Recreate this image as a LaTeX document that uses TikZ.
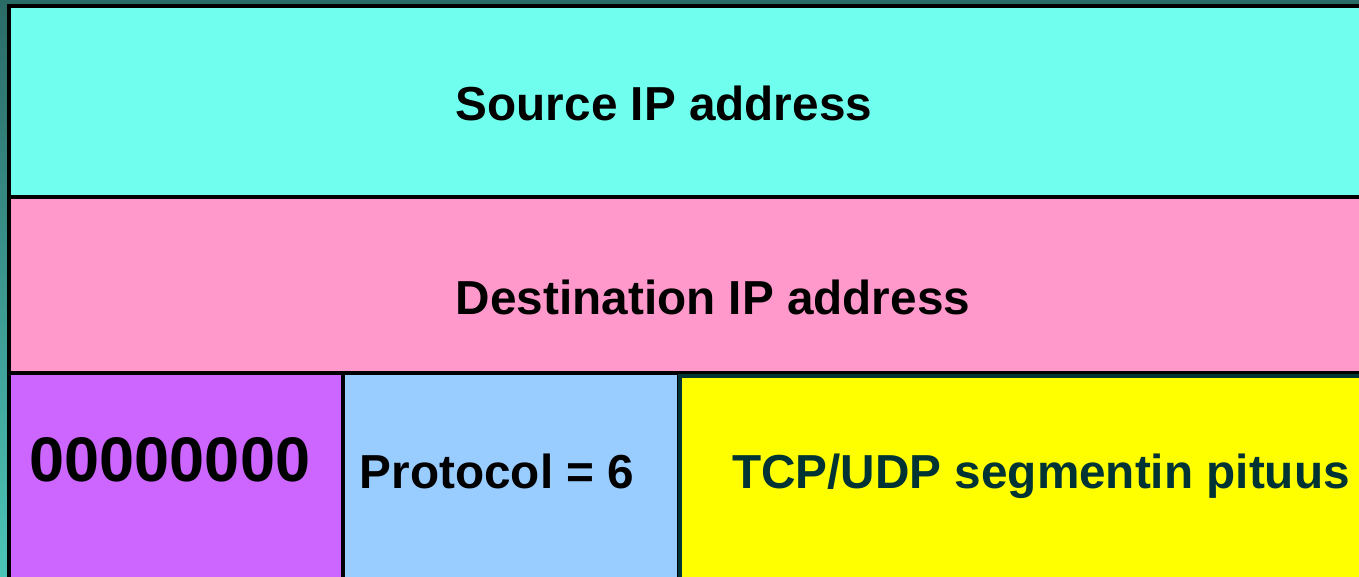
\documentclass[tikz,border=0pt]{standalone}
\usepackage{fontspec}
\setmainfont{Liberation Sans}
\definecolor{slideteal}{HTML}{2B6B66}
\definecolor{slidetealb}{HTML}{4CC4B8}
\definecolor{srccyan}{HTML}{70FFEE}
\definecolor{dstpink}{HTML}{FF99CC}
\definecolor{zeropurple}{HTML}{CC66FF}
\definecolor{protoblue}{HTML}{99CCFF}
\definecolor{lenyellow}{HTML}{FFFF00}
\definecolor{lentext}{HTML}{003333}
\tikzset{
    field/.style={draw=black,line width=4pt},
    fieldtext/.style={font=\bfseries\fontsize{47.7}{57}\selectfont,inner sep=0pt,anchor=base}
}

\begin{document}
\begin{tikzpicture}[x=1pt,y=-1pt]
            \useasboundingbox (0,0) rectangle (1359,577);
            \shade[top color=slideteal,bottom color=slidetealb] (0,0) rectangle (1359,577);
            \draw[field,fill=srccyan] (9,6.5) rectangle (1370,197);
            \draw[field,fill=dstpink] (9,197) rectangle (1370,373);
            \draw[field,fill=zeropurple] (9,373) rectangle (343,590);
            \draw[field,fill=protoblue] (343,373) rectangle (679,590);
            \draw[field,draw=lentext,fill=lenyellow] (679.5,375.5) rectangle (1370,590);
            \draw[black,line width=2pt] (679,372) -- (1370,372);
            \node[fieldtext] (srcip) at (664,121) {Source IP address};
            \node[fieldtext] (dstip) at (713,314) {Destination IP address};
            \node[fieldtext,font=\bfseries\fontsize{63}{75}\selectfont] (zeros) at (170,481) {00000000};
            \node[fieldtext] (proto) at (497,488) {Protocol = 6};
            \node[fieldtext,text=lentext] (seglen) at (1041,488) {TCP/UDP segmentin pituus};
        \end{tikzpicture}
\end{document}
